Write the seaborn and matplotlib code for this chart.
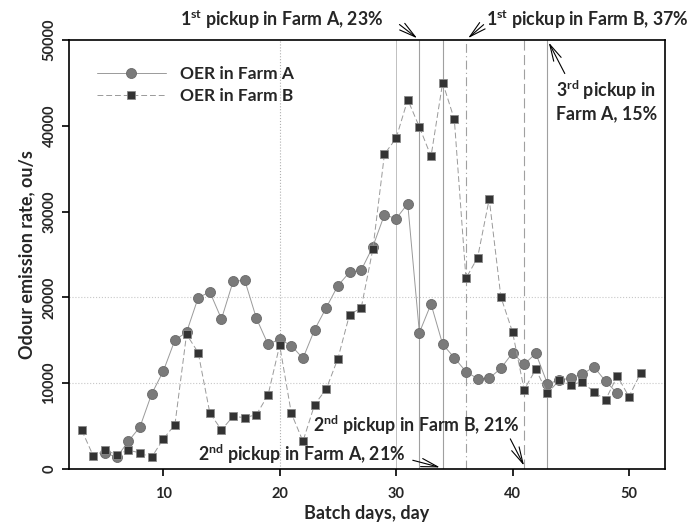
import numpy as np
import pandas as pd
import matplotlib
matplotlib.use("Agg")
import matplotlib.pyplot as plt
import seaborn as sns

# ---- data ----
days_a = list(range(5, 50))
oer_a = [1900, 1360, 3230, 4900, 8740, 11390, 15030, 15930, 19970, 20630,
         17480, 21870, 21990, 17560, 14530, 15120, 14370, 12900, 16240, 18800,
         21370, 22920, 23160, 25900, 29640, 29170, 30920, 15890, 19230, 14530,
         12970, 11340, 10530, 10570, 11730, 13520, 12200, 13480, 9940, 10330,
         10610, 11070, 11890, 10220, 8820]
days_b = list(range(3, 52))
oer_b = [4510, 1480, 2180, 1670, 2210, 1860, 1360, 3500, 5160, 15700,
         13560, 6530, 4550, 6140, 5980, 6330, 8620, 14420, 6490, 3230,
         7500, 9320, 12860, 17990, 18760, 25600, 36700, 38540, 43040, 39860,
         36440, 45030, 40760, 22220, 24630, 31470, 20050, 15970, 9240, 11620,
         8820, 10330, 9790, 10180, 8940, 8080, 10840, 8430, 11150]
x_ticks = [10, 20, 30, 40, 50]
y_ticks = [0, 10000, 20000, 30000, 40000, 50000]
hgrid = [10000, 20000]

sns.set_theme(style="white")
plt.rcParams['font.family'] = ['Lato', 'DejaVu Sans']
plt.rcParams['font.weight'] = 'bold'
plt.rcParams['mathtext.fontset'] = 'custom'
plt.rcParams['mathtext.rm'] = 'Lato:bold'
plt.rcParams['mathtext.bf'] = 'Lato:bold'
plt.rcParams['mathtext.it'] = 'Lato:bold'

fig = plt.figure(figsize=(6.87, 5.26), dpi=100)
ax = fig.add_axes([0.1004, 0.1084, 0.8676, 0.8156])

# reference lines
for yv in hgrid:
    ax.axhline(yv, color='#c8c8c8', lw=0.8, ls=':', zorder=0)
ax.axvline(20, color='#b0b0b0', lw=0.8, ls=':', zorder=0)
ax.axvline(30, color='#c0c0c0', lw=0.7, ls='-', zorder=0)
ax.axvline(32, color='#a0a0a0', lw=0.8, ls='-', zorder=0)
ax.axvline(34, color='#a0a0a0', lw=0.8, ls='-', zorder=0)
ax.axvline(36, color='#a0a0a0', lw=0.8, ls=(0, (8, 3, 1, 3)), zorder=0)
ax.axvline(41, color='#a0a0a0', lw=0.8, ls=(0, (9, 4)), zorder=0)
ax.axvline(43, color='#a0a0a0', lw=0.8, ls='-', zorder=0)

dfa = pd.DataFrame({'day': days_a, 'oer': oer_a})
dfb = pd.DataFrame({'day': days_b, 'oer': oer_b})
sns.lineplot(data=dfa, x='day', y='oer', ax=ax, color='#9a9a9a', lw=0.7,
             marker='o', markersize=7.2, markerfacecolor='#7a7a7a',
             markeredgecolor='#6a6a6a', markeredgewidth=0.6,
             label='OER in Farm A', zorder=3)
sns.lineplot(data=dfb, x='day', y='oer', ax=ax, color='#9a9a9a', lw=0.7,
             ls=(0, (6, 3)), marker='s', markersize=5.5,
             markerfacecolor='#333333', markeredgecolor='#8a8a8a',
             markeredgewidth=0.6, label='OER in Farm B', zorder=4)

ax.set_xlim(1.9, 53.1)
ax.set_ylim(0, 50000)
ax.set_xticks(x_ticks)
ax.set_yticks(y_ticks)
ax.set_xticklabels([str(t) for t in x_ticks], fontsize=10.5, fontweight='bold')
ax.set_yticklabels([str(t) for t in y_ticks], fontsize=10.5, fontweight='bold',
                   rotation=90, va='center')
ax.tick_params(axis='x', bottom=True, length=5, width=1.2, color='black', pad=8)
ax.tick_params(axis='y', left=True, length=5, width=1.2, color='black', pad=4)
for s in ax.spines.values():
    s.set_color('black')
    s.set_linewidth(1.2)
ax.set_xlabel('Batch days, day', fontsize=13, fontweight='bold', labelpad=3)
ax.set_ylabel('Odour emission rate, ou/s', fontsize=13, fontweight='bold', labelpad=5)

leg = ax.legend(loc='upper left', bbox_to_anchor=(0.02, 0.975), frameon=False,
                fontsize=12.5, handlelength=4.0, handletextpad=0.8, labelspacing=0.35)
for t in leg.get_texts():
    t.set_fontweight('bold')

arrow = dict(arrowstyle='->,head_length=1.0,head_width=0.25', color='black', lw=0.8)
tkw = dict(fontsize=12.8, fontweight='bold', annotation_clip=False)

ax.annotate(r'1$^{\mathbf{st}}$ pickup in Farm A, 23%', xy=(32, 50000),
            xytext=(20.2, 52400), ha='center', va='center', **tkw)
ax.annotate('', xy=(32, 50000), xytext=(30.1, 52000), arrowprops=arrow,
            annotation_clip=False)
ax.annotate(r'1$^{\mathbf{st}}$ pickup in Farm B, 37%', xy=(36, 50000),
            xytext=(46.4, 52400), ha='center', va='center', **tkw)
ax.annotate('', xy=(36, 50000), xytext=(37.7, 52000), arrowprops=arrow,
            annotation_clip=False)
ax.annotate('3$^{\\mathbf{rd}}$ pickup in\nFarm A, 15%', xy=(43, 50000),
            xytext=(43.7, 43000), ha='left', va='center', linespacing=1.25, **tkw)
ax.annotate('', xy=(43, 50000), xytext=(44.6, 45800), arrowprops=arrow,
            annotation_clip=False)
ax.annotate(r'2$^{\mathbf{nd}}$ pickup in Farm B, 21%', xy=(41, 100),
            xytext=(31.7, 5100), ha='center', va='center', **tkw)
ax.annotate('', xy=(41.1, 100), xytext=(39.7, 3800), arrowprops=arrow,
            annotation_clip=False)
ax.annotate(r'2$^{\mathbf{nd}}$ pickup in Farm A, 21%', xy=(34, 100),
            xytext=(21.9, 1700), ha='center', va='center', **tkw)
ax.annotate('', xy=(34, 100), xytext=(31.2, 1100), arrowprops=arrow,
            annotation_clip=False)

fig.savefig('out.png', dpi=100)
